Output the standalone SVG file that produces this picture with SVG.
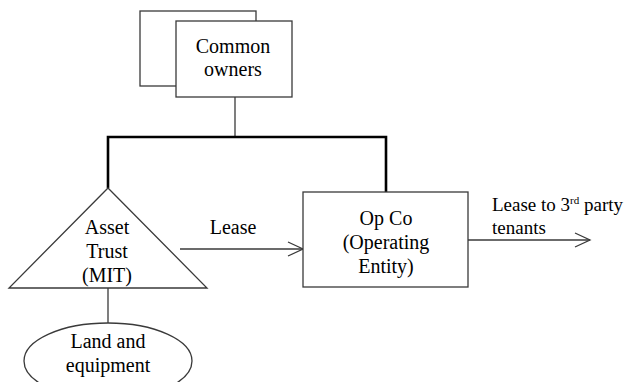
<svg xmlns="http://www.w3.org/2000/svg" width="627" height="382" viewBox="0 0 627 382">
<style>
text{font-family:"Liberation Serif","Times New Roman",serif;font-size:20px;fill:#000;text-anchor:middle}
.s{fill:#fff;stroke:#3a3a3a;stroke-width:1.3}
.c{fill:none;stroke:#3a3a3a;stroke-width:1.3}
.k{fill:none;stroke:#000;stroke-width:2.6}
.l{text-anchor:start;font-size:19px}
</style>
<defs>
<marker id="arr" markerWidth="18" markerHeight="16" refX="16" refY="8" orient="auto" markerUnits="userSpaceOnUse">
<path d="M1,1 L16,8 L1,15" fill="none" stroke="#3a3a3a" stroke-width="1.3"/>
</marker>
</defs>
<g id="connectors">
<line class="c" x1="235" y1="97" x2="235" y2="137"/>
<path class="k" d="M108,188 V137 H386 V192"/>
<line class="c" x1="108" y1="288" x2="108" y2="323"/>
<line class="c" x1="180" y1="249" x2="303" y2="249" marker-end="url(#arr)"/>
<text x="233" y="234">Lease</text>
<line class="c" x1="468" y1="240" x2="590" y2="240" marker-end="url(#arr)"/>
<text class="l" x="492" y="211">Lease to 3<tspan font-size="11" dy="-7">rd</tspan><tspan dy="7"> party</tspan></text>
<text class="l" x="492" y="234">tenants</text>
</g>
<g id="common-owners">
<rect class="s" x="140" y="11" width="116" height="75"/>
<rect class="s" x="176" y="21" width="116" height="76"/>
<text x="233" y="53">Common</text>
<text x="233" y="76">owners</text>
</g>
<g id="asset-trust">
<polygon class="s" points="108,188 207,288 9,288"/>
<text x="107" y="234">Asset</text>
<text x="107" y="258">Trust</text>
<text x="107" y="282">(MIT)</text>
</g>
<g id="op-co">
<rect class="s" x="303" y="192" width="165" height="95"/>
<text x="386" y="225">Op Co</text>
<text x="386" y="249">(Operating</text>
<text x="386" y="273">Entity)</text>
</g>
<g id="land">
<ellipse class="s" cx="108" cy="361" rx="84" ry="38"/>
<text x="108" y="348">Land and</text>
<text x="108" y="372">equipment</text>
</g>
</svg>
